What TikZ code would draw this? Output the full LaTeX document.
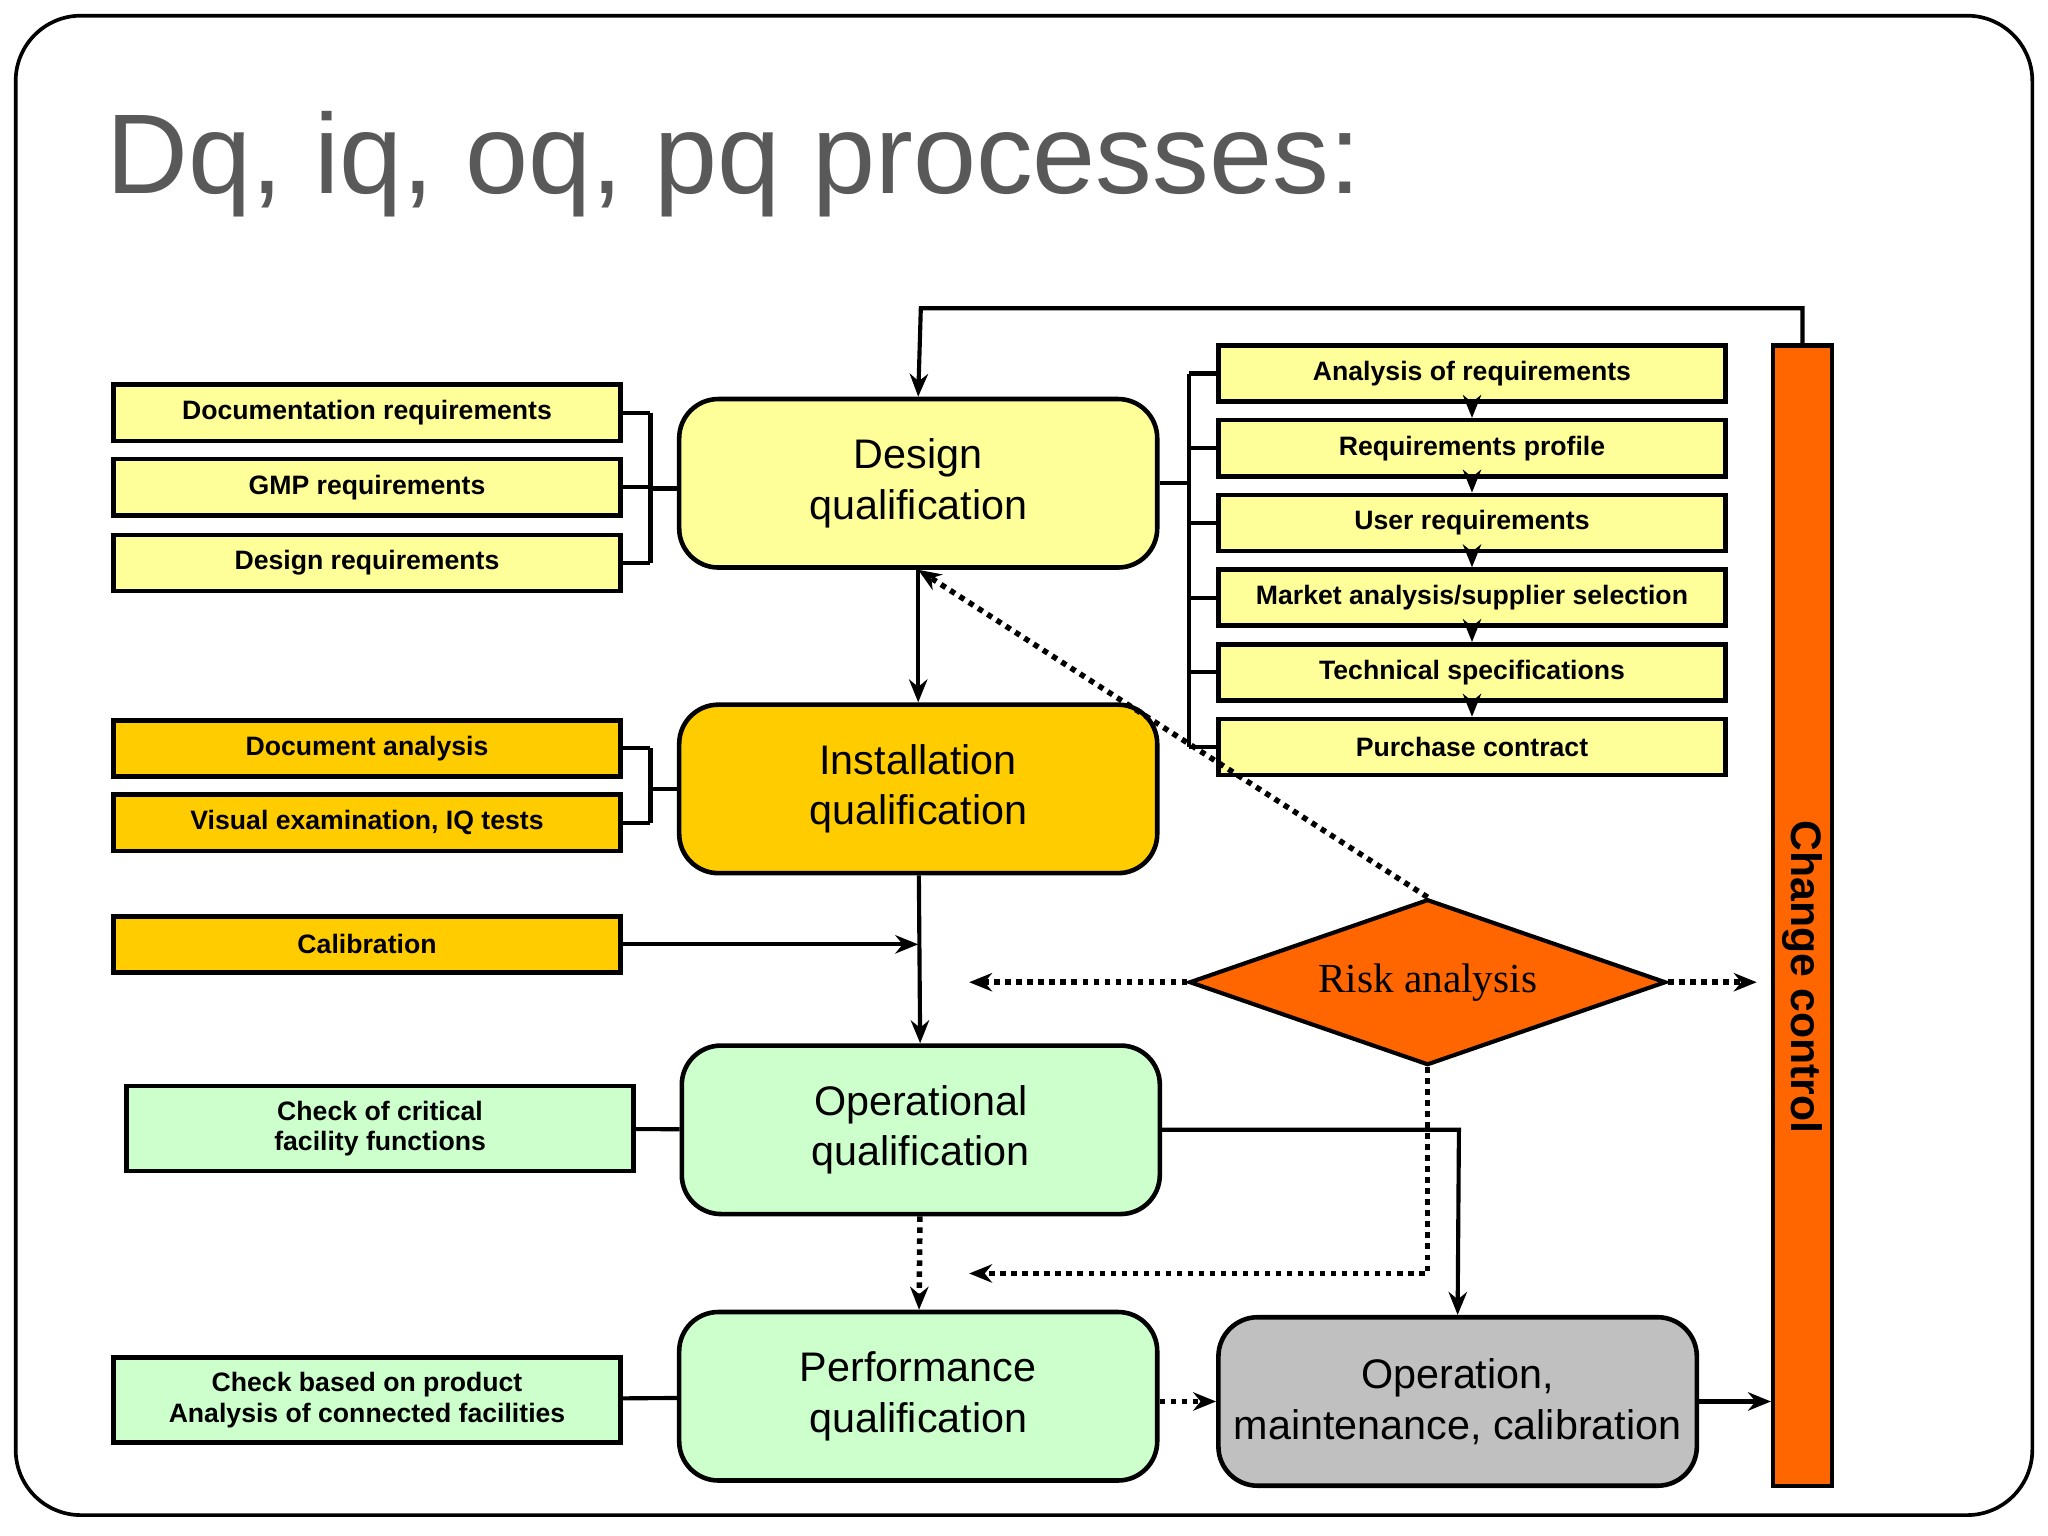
\documentclass[tikz,border=0pt]{standalone}
\usepackage{fontspec}
\setmainfont{Liberation Sans}
\newfontfamily\riskfont{Liberation Serif}
\usepackage{xcolor}
\usetikzlibrary{shapes.geometric,arrows.meta}

\definecolor{dqyellow}{HTML}{FFFF99}
\definecolor{iqgold}{HTML}{FFCC00}
\definecolor{oqgreen}{HTML}{CCFFCC}
\definecolor{opgray}{HTML}{C0C0C0}
\definecolor{ccorange}{HTML}{FF6600}
\definecolor{titlegray}{HTML}{595959}

\begin{document}
\begin{tikzpicture}[x=0.1mm,y=-0.1mm,line width=0.9pt,>={Stealth[length=5pt,width=4pt]},
  small/.style={draw,line width=1pt,minimum width=38.8mm,minimum height=4.3mm,inner sep=0pt,
    font=\fontsize{5.8}{6.6}\selectfont\bfseries,align=center},
  big/.style={draw,rounded corners=3mm,line width=1pt,minimum width=36.6mm,minimum height=12.9mm,
    font=\fontsize{9}{11}\selectfont,align=center},
  dots/.style={line width=1.2pt,dash pattern=on 1.2pt off 1.2pt}]

\useasboundingbox (0,0) rectangle (1568,1176);
\draw[line width=0.8pt,rounded corners=5mm] (12,12) rectangle (1556,1160);

% title
\node[anchor=base west,inner sep=0pt,text=titlegray,font=\fontsize{24.7}{28}\selectfont] (title) at (80,148) {Dq, iq, oq, pq processes:};

% change control
\node[draw,fill=ccorange,minimum width=4.5mm,minimum height=87.3mm,inner sep=0pt] (cc) at (1380,701) {};
\node[rotate=-90,font=\fontsize{9.3}{11}\selectfont\bfseries] (cctext) at (1380,748) {Change control};

% main boxes
\node[big,fill=dqyellow] (dq) at (703,370) {Design\\qualification};
\node[big,fill=iqgold] (iq) at (703,604) {Installation\\qualification};
\node[big,fill=oqgreen] (oq) at (705,865) {Operational\\qualification};
\node[big,fill=oqgreen] (pq) at (703,1069) {Performance\\qualification};
\node[big,fill=opgray] (op) at (1116,1073) {Operation,\\maintenance, calibration};
\node[diamond,draw,fill=ccorange,aspect=2.87,minimum width=36.5mm,minimum height=12.7mm,inner sep=0pt,
  font=\fontsize{9}{11}\riskfont] (risk) at (1093,752) {Risk analysis};

% left boxes
\node[small,fill=dqyellow] (docreq) at (281,316) {Documentation requirements};
\node[small,fill=dqyellow] (gmp) at (281,373) {GMP requirements};
\node[small,fill=dqyellow] (desreq) at (281,431) {Design requirements};
\node[small,fill=iqgold] (docan) at (281,573) {Document analysis};
\node[small,fill=iqgold] (visual) at (281,630) {Visual examination, IQ tests};
\node[small,fill=iqgold] (calib) at (281,723) {Calibration};
\node[small,fill=oqgreen,minimum height=6.5mm] (check) at (291,864) {Check of critical\\facility functions};
\node[small,fill=oqgreen,minimum height=6.5mm] (prod) at (281,1072) {Check based on product\\Analysis of connected facilities};

% right boxes
\foreach \i/\name/\txt in {0/ana/{Analysis of requirements},1/prof/{Requirements profile},2/user/{User requirements},
  3/market/{Market analysis/supplier selection},4/tech/{Technical specifications},5/purch/{Purchase contract}}
  \node[small,fill=dqyellow] (\name) at (1127,{286+57.2*\i}) {\txt};
\foreach \a/\b in {ana/prof,prof/user,user/market,market/tech,tech/purch}
  \draw[->] (\a) -- (\b);

% brackets
\coordinate (bl) at (498,374);
\foreach \n in {docreq,gmp,desreq} \draw (\n.east) -- (\n.east -| bl);
\draw (docreq.east -| bl) -- (desreq.east -| bl);
\draw (bl) -- (bl -| dq.west);
\coordinate (bi) at (498,604);
\foreach \n in {docan,visual} \draw (\n.east) -- (\n.east -| bi);
\draw (docan.east -| bi) -- (visual.east -| bi);
\draw (bi) -- (bi -| iq.west);
\draw (check) -- (oq);
\draw (prod) -- (pq);
\coordinate (br) at (910,370);
\foreach \n in {ana,prof,user,market,tech,purch} \draw (\n.west) -- (\n.west -| br);
\draw (ana.west -| br) -- (purch.west -| br);
\draw (dq.east |- br) -- (br);

% flow
\draw[->] (dq) -- (iq);
\draw[->] (iq) -- (oq);
\draw[->] (calib) -- (calib -| iq.south);
\draw[->,dots] (oq) -- (pq);
\draw[->,dots] (pq.east |- op) -- (op);
\draw[->] (op) -- (op -| cc.west);
\draw[->] (oq.east) -- (1117,865) -- (op.north);
\coordinate (top) at (705,236);
\draw[->] (cc.north) |- (top) -- (dq.north);

% risk analysis
\coordinate (rl) at (742,752);
\coordinate (rr) at (1345,752);
\coordinate (rd) at (742,975);
\draw[->,dots] (risk.west) -- (rl);
\draw[->,dots] (risk.east) -- (rr);
\draw[->,dots] (risk.north) -- (dq.south);
\draw[->,dots] (risk.south) -- (risk.south |- rd) -- (rd);
\end{tikzpicture}
\end{document}
